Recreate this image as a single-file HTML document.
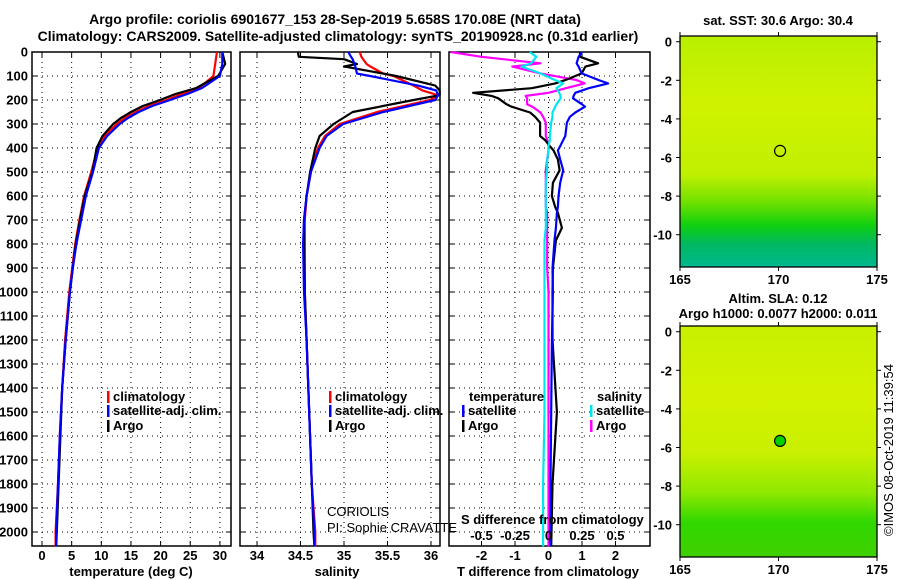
<!DOCTYPE html>
<html><head><meta charset="utf-8"><style>
body{margin:0;background:#fff}
svg{display:block;font-family:"Liberation Sans",sans-serif}
.b{font-weight:bold;font-size:13px}
</style></head><body>
<svg id="c" width="900" height="580" viewBox="0 0 900 580">
<text class="b" x="335" y="24" text-anchor="middle" style="font-size:14px">Argo profile: coriolis 6901677_153 28-Sep-2019 5.658S 170.08E (NRT data)</text>
<text class="b" x="338" y="41" text-anchor="middle" style="font-size:14px">Climatology: CARS2009. Satellite-adjusted climatology: synTS_20190928.nc (0.31d earlier)</text>
<g id="g"></g>
</svg>
<script>
// depth levels (m)
const dT=[0,50,100,150,175,200,225,250,275,300,350,400,500,600,700,800,900,1000,1200,1400,1600,1800,2000,2060];
const tempArgo=[30.4,30.9,29.7,26,22.5,19.9,17,15,13.3,12,10.2,9.2,8.5,7.2,6.4,5.7,5.2,4.7,4.0,3.4,3.1,2.8,2.5,2.4];
const tempClim=[29.5,29.2,28.9,26.5,23.5,21,18,15.8,14,12.6,10.6,9.4,8.3,7.1,6.3,5.6,5.1,4.6,3.9,3.4,3.0,2.7,2.3,2.3];
const tempSat=[30.4,30.4,30,27,24.5,21.6,18.6,16.3,14.5,13.1,11,9.6,8.6,7.4,6.6,5.8,5.2,4.7,4.0,3.4,3.0,2.7,2.4,2.4];
const dS=[0,20,30,50,60,90,100,140,160,180,200,250,300,350,400,500,600,700,800,1000,1200,1500,1800,2000,2060];
const salArgo=[34.47,34.48,35.0,35.15,35.0,35.45,35.6,36.05,36.1,36.1,35.8,35.1,34.88,34.72,34.67,34.61,34.57,34.54,34.54,34.55,34.57,34.6,34.63,34.65,34.66];
const salClim=[35.18,35.2,35.22,35.26,35.3,35.45,35.57,35.8,35.9,36.08,35.99,35.38,34.95,34.78,34.7,34.62,34.57,34.55,34.55,34.55,34.57,34.6,34.63,34.67,34.67];
const salSat=[35.05,35.08,35.1,35.12,35.13,35.15,35.3,35.85,36.06,36.08,36.05,35.45,34.99,34.8,34.72,34.62,34.57,34.54,34.53,34.54,34.57,34.6,34.63,34.66,34.66];
const dD=[0,20,47,61,89,117,131,151,170,183,193,218,228,252,270,294,350,367,392,410,448,493,545,600,646,670,733,785,900,1000,1200,1500,1800,2060];
const dtArgo=[0.94,0.94,1.48,1.1,0.99,0.5,0.2,-0.5,-2.25,-1.7,-1.5,-1.25,-1.1,-0.55,-0.4,-0.25,-0.25,-0.1,0.04,0.15,0.28,0.33,0.13,0.1,0.2,0.28,0.4,0.22,0.13,0.12,0.12,0.25,0.12,0.08];
const dtSat=[1.0,0.9,0.84,0.9,0.99,1.5,1.78,1.2,0.8,0.75,0.73,1.0,1.09,0.8,0.64,0.55,0.5,0.44,0.35,0.28,0.35,0.44,0.35,0.3,0.28,0.25,0.22,0.18,0.12,0.13,0.1,0.08,0.06,0.05];
const dsArgo=[-0.73,-0.5,-0.06,-0.27,-0.06,0.21,0.27,0.13,0.0,-0.17,-0.16,-0.16,-0.12,-0.06,-0.04,-0.02,-0.02,-0.01,0,0,-0.01,-0.02,-0.02,-0.02,-0.02,-0.01,-0.01,-0.01,-0.01,0.0,0.0,0.0,0.0,0.0];
const dsSat=[-0.14,-0.09,-0.13,-0.2,-0.06,0.05,0.11,0.06,0.08,0.09,0.09,0.06,0.05,0.03,0.03,0.02,0.01,0.01,0.0,0.0,-0.01,-0.01,-0.02,-0.02,-0.02,-0.02,-0.02,-0.03,-0.03,-0.03,-0.03,-0.03,-0.04,-0.04];
const depthTicks=[0,100,200,300,400,500,600,700,800,900,1000,1100,1200,1300,1400,1500,1600,1700,1800,1900,2000];
const tTicks=[0,5,10,15,20,25,30];
const sTicks=[34,34.5,35,35.5,36];
const dtTicks=[-2,-1,0,1,2];
const dsTicks=[-0.5,-0.25,0,0.25,0.5];
const lonTicks=[165,170,175];
const latTicks=[0,-2,-4,-6,-8,-10];

const NS="http://www.w3.org/2000/svg", G=document.getElementById('g');
function mk(t,a,p){const e=document.createElementNS(NS,t);for(const k in a)e.setAttribute(k,a[k]);(p||G).appendChild(e);return e;}
const Y=d=>52+d*0.24;
const xT=v=>42+v*5.93, xS=v=>257+(v-34)*87, xDT=v=>548.5+v*33.5, xDS=v=>548.5+v*134;
const yTopP=52,yBotP=546;
function panel(x0,x1,name,ticks,xf,labels){
  const f=mk('rect',{x:x0,y:yTopP,width:x1-x0,height:yBotP-yTopP,fill:'none',stroke:'#000','stroke-width':1.5});
  
  
  depthTicks.forEach(d=>{
    const l=mk('line',{x1:x0,x2:x1,y1:Y(d),y2:Y(d),stroke:'#000','stroke-dasharray':'1 4'});
    
    
    mk('line',{x1:x0,x2:x0+5,y1:Y(d),y2:Y(d),stroke:'#000'});
    mk('line',{x1:x1-5,x2:x1,y1:Y(d),y2:Y(d),stroke:'#000'});
  });
  ticks.forEach(v=>{
    const l=mk('line',{x1:xf(v),x2:xf(v),y1:yTopP,y2:yBotP,stroke:'#000','stroke-dasharray':'1 4'});
    
    
    mk('line',{x1:xf(v),x2:xf(v),y1:yBotP-5,y2:yBotP,stroke:'#000'});
    mk('line',{x1:xf(v),x2:xf(v),y1:yTopP,y2:yTopP+5,stroke:'#000'});
    if(labels){const t=mk('text',{x:xf(v),y:560,'text-anchor':'middle',class:'b'});t.textContent=String(v);
      
      }
  });
}
panel(32,231,'temperature-panel',tTicks,xT,true);
panel(240,440,'salinity-panel',sTicks,xS,true);
panel(449,650,'difference-panel',dtTicks,xDT,true);
depthTicks.forEach(d=>{const t=mk('text',{x:28,y:Y(d)+4.5,'text-anchor':'end',class:'b'});t.textContent=d;
  
  });
function line(ds,vs,xf,col,name,w){
  const p=mk('polyline',{points:ds.map((d,i)=>xf(vs[i]).toFixed(1)+','+Y(d).toFixed(1)).join(' '),fill:'none',stroke:col,'stroke-width':w||2.2,'stroke-linejoin':'round'});
  
  
}
line(dT,tempClim,xT,'#ff0000','temp-climatology-line');
line(dT,tempArgo,xT,'#000','temp-argo-line');
line(dT,tempSat,xT,'#0000ff','temp-satellite-line');
line(dS,salClim,xS,'#ff0000','sal-climatology-line');
line(dS,salArgo,xS,'#000','sal-argo-line');
line(dS,salSat,xS,'#0000ff','sal-satellite-line');
line(dD,dsArgo,xDS,'#ff00ff','sdiff-argo-line');
line(dD,dtArgo,xDT,'#000','tdiff-argo-line');
line(dD,dtSat,xDT,'#0000ff','tdiff-satellite-line');
line(dD,dsSat,xDS,'#00e5ee','sdiff-satellite-line');
function txt(x,y,s,name,extra){const t=mk('text',Object.assign({x:x,y:y,class:'b'},extra||{}));t.textContent=s;
  
  return t;}
function leg(x,y,col,s,name){mk('rect',{x:x,y:y-10,width:2.5,height:12,fill:col});txt(x+6,y,s,name);}
leg(107,401,'#ff0000','climatology','legend-climatology');
leg(107,415,'#0000ff','satellite-adj. clim.','legend-satellite');
leg(107,430,'#000','Argo','legend-argo');
leg(329,401,'#ff0000','climatology','legend-climatology-2');
leg(329,415,'#0000ff','satellite-adj. clim.','legend-satellite-2');
leg(329,430,'#000','Argo','legend-argo-2');
txt(469,401,'temperature','legend-temperature-heading');
leg(462,415,'#0000ff','satellite','legend-t-satellite');
leg(462,430,'#000','Argo','legend-t-argo');
txt(597,401,'salinity','legend-salinity-heading');
leg(590,415,'#00e5ee','satellite','legend-s-satellite');
leg(590,430,'#ff00ff','Argo','legend-s-argo');
txt(327,516,'CORIOLIS','coriolis-label',{style:'font-weight:normal'});
txt(327,532,'PI: Sophie CRAVATTE','pi-label',{style:'font-weight:normal'});
txt(461,524,'S difference from climatology','s-diff-axis-title');
dsTicks.forEach(v=>{txt(xDS(v),540,String(v),'s-diff-tick-label',{'text-anchor':'middle'});});
txt(131,576,'temperature (deg C)','x-axis-title-temperature',{'text-anchor':'middle'});
txt(337,576,'salinity','x-axis-title-salinity',{'text-anchor':'middle'});
txt(548,576,'T difference from climatology','x-axis-title-tdiff',{'text-anchor':'middle'});

// maps
const mX=v=>680+(v-165)*19.7;
function map(yTop,lat0y,name,title1,title2,isSla){
  const yb=yTop+231, my=v=>lat0y-v*19.3;
  const id=name+'g';
  const defs=mk('defs',{});
  const lg=mk('linearGradient',{id:id,x1:0,y1:0,x2:0,y2:1},defs);
  const stops=isSla?[[0,'#c8f000'],[0.3,'#d4f200'],[0.55,'#c8f000'],[0.72,'#90e800'],[0.85,'#30d800'],[1,'#40d000']]:[[0,'#b8f000'],[0.3,'#d0f200'],[0.6,'#c0f000'],[0.72,'#70e000'],[0.82,'#10d010'],[0.9,'#00b860'],[1,'#00b890']];
  stops.forEach(s=>mk('stop',{offset:s[0],'stop-color':s[1]},lg));
  const r=mk('rect',{x:680,y:yTop,width:197,height:231,fill:'url(#'+id+')'});
  
  
  mk('rect',{x:680,y:yTop,width:197,height:231,fill:'none',stroke:'#000','stroke-width':1.3});
  lonTicks.forEach(v=>{mk('line',{x1:mX(v),x2:mX(v),y1:yb,y2:yb+4,stroke:'#000'});mk('line',{x1:mX(v),x2:mX(v),y1:yTop-4,y2:yTop,stroke:'#000'});
    txt(mX(v),yb+17,String(v),'map-lon-label',{'text-anchor':'middle',style:'font-size:13px'});});
  latTicks.forEach(v=>{mk('line',{x1:676,x2:680,y1:my(v),y2:my(v),stroke:'#000'});mk('line',{x1:877,x2:881,y1:my(v),y2:my(v),stroke:'#000'});
    txt(672,my(v)+5,String(v),'map-lat-label',{'text-anchor':'end',style:'font-size:13px'});});
  const c=mk('circle',{cx:mX(170.08),cy:my(-5.658),r:5.5,fill:isSla?'#00d000':'none',stroke:'#000','stroke-width':1.2});
  
  
  txt(778,yTop-(isSla?23:11),title1,'map-title',{'text-anchor':'middle'});
  if(title2)txt(778,yTop-8,title2,'map-subtitle',{'text-anchor':'middle'});
}
map(36,41.7,'sst-map','sat. SST: 30.6 Argo: 30.4');
map(326,331.7,'sla-map','Altim. SLA: 0.12','Argo h1000: 0.0077 h2000: 0.011',true);
txt(893,450,'©IMOS 08-Oct-2019 11:39:54','imos-credit',{'text-anchor':'middle',style:'font-weight:normal',transform:'rotate(-90 893 450)'});
</script>
</body></html>
